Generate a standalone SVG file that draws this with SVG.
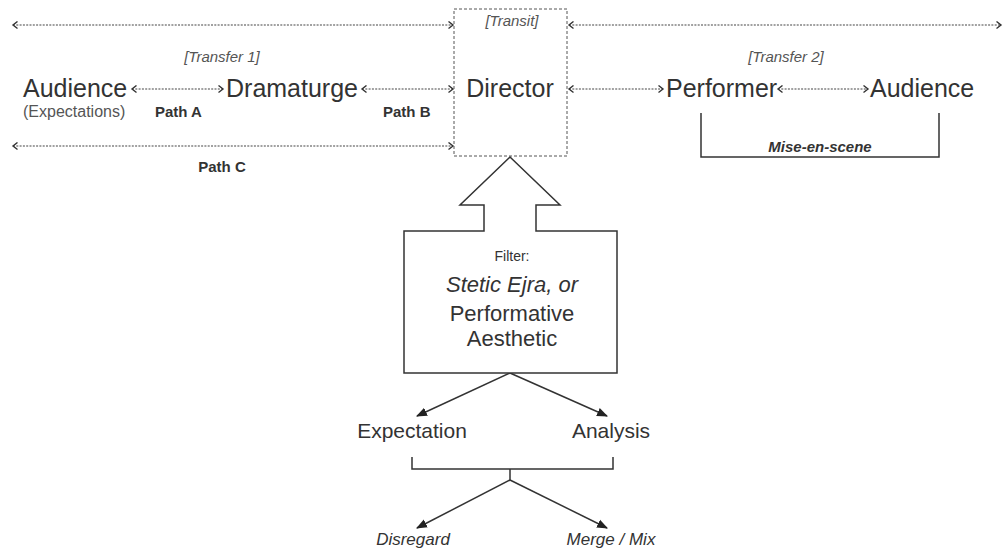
<svg xmlns="http://www.w3.org/2000/svg" width="1005" height="551" viewBox="0 0 1005 551">
  <style>
    text { font-family: "Liberation Sans", Arial, sans-serif; fill: #333; }
    .big { font-size: 25px; }
    .note { font-size: 15px; font-style: italic; fill: #555; }
    .path { font-size: 15px; font-weight: bold; fill: #333; }
    .sub { font-size: 16px; fill: #555; }
    .mid { text-anchor: middle; }
    .dotted { stroke: #444; stroke-width: 1.2; stroke-dasharray: 2 1.3; fill: none; }
    .solid { stroke: #333; stroke-width: 1.5; fill: none; }
  </style>
  <defs>
    <marker id="chev" viewBox="0 0 9 9" markerWidth="9" markerHeight="9" refX="7" refY="4.5" orient="auto-start-reverse" markerUnits="userSpaceOnUse">
      <path d="M2.5,1 L7,4.5 L2.5,8" fill="none" stroke="#333" stroke-width="1.4"/>
    </marker>
    <marker id="tri" viewBox="0 0 10 10" markerWidth="11" markerHeight="11" refX="9" refY="5" orient="auto" markerUnits="userSpaceOnUse">
      <path d="M0,1 L10,5 L0,9 Z" fill="#222"/>
    </marker>
  </defs>

  <rect width="1005" height="551" fill="#fff"/>

  <!-- connectors -->
  <g id="connectors">
    <line class="dotted" x1="13" y1="25" x2="453" y2="25" marker-start="url(#chev)" marker-end="url(#chev)"/>
    <line class="dotted" x1="569" y1="25" x2="1001" y2="25" marker-start="url(#chev)" marker-end="url(#chev)"/>
    <line class="dotted" x1="132" y1="89" x2="223" y2="89" marker-start="url(#chev)" marker-end="url(#chev)"/>
    <line class="dotted" x1="362" y1="89" x2="453" y2="89" marker-start="url(#chev)" marker-end="url(#chev)"/>
    <line class="dotted" x1="13" y1="146" x2="453" y2="146" marker-start="url(#chev)" marker-end="url(#chev)"/>
    <line class="dotted" x1="569" y1="89" x2="663" y2="89" marker-start="url(#chev)" marker-end="url(#chev)"/>
    <line class="dotted" x1="778" y1="89" x2="868" y2="89" marker-start="url(#chev)" marker-end="url(#chev)"/>
    <!-- mise-en-scene bracket -->
    <path class="solid" d="M701,113 V157 H939 V113"/>
    <!-- filter outputs -->
    <line class="solid" x1="510" y1="373" x2="417" y2="416" marker-end="url(#tri)"/>
    <line class="solid" x1="510" y1="373" x2="607" y2="416" marker-end="url(#tri)"/>
    <path class="solid" d="M412,457 V469 H613 V457 M510,469 V480"/>
    <line class="solid" x1="510" y1="480" x2="417" y2="528" marker-end="url(#tri)"/>
    <line class="solid" x1="510" y1="480" x2="607" y2="528" marker-end="url(#tri)"/>
  </g>

  <!-- labels on connectors -->
  <g id="labels">
    <text class="note mid" x="222" y="62">[Transfer 1]</text>
    <text class="note mid" x="786" y="62">[Transfer 2]</text>
    <text class="path" x="155" y="117">Path A</text>
    <text class="path" x="383" y="117">Path B</text>
    <text class="path mid" x="222" y="172">Path C</text>
    <text class="path mid" x="820" y="152" font-style="italic">Mise-en-scene</text>
  </g>

  <g id="audience-left">
    <text class="big" x="23" y="97">Audience</text>
    <text class="sub" x="23" y="117">(Expectations)</text>
  </g>

  <g id="dramaturge">
    <text class="big" x="226" y="97">Dramaturge</text>
  </g>

  <g id="director">
    <rect x="454" y="9" width="113" height="147" fill="none" stroke="#555" stroke-width="1" stroke-dasharray="3 2"/>
    <text class="note mid" x="512" y="26">[Transit]</text>
    <text class="big mid" x="510" y="97">Director</text>
  </g>

  <g id="performer">
    <text class="big" x="666" y="97">Performer</text>
  </g>

  <g id="audience-right">
    <text class="big" x="870" y="97">Audience</text>
  </g>

  <g id="filter">
    <polygon points="510,157 560,205 536,205 536,231 617,231 617,373 404,373 404,231 484,231 484,205 460,205" fill="#fff" stroke="#333" stroke-width="1.5" stroke-linejoin="miter"/>
    <text class="mid" x="512" y="261" font-size="14" fill="#555">Filter:</text>
    <text class="mid" x="512" y="292" font-size="22" font-style="italic">Stetic Ejra, or</text>
    <text class="mid" x="512" y="321" font-size="22">Performative</text>
    <text class="mid" x="512" y="346" font-size="22">Aesthetic</text>
  </g>

  <g id="expectation">
    <text class="mid" x="412" y="438" font-size="21">Expectation</text>
  </g>

  <g id="analysis">
    <text class="mid" x="611" y="438" font-size="21">Analysis</text>
  </g>

  <g id="disregard">
    <text class="mid" x="413" y="545" font-size="17" font-style="italic">Disregard</text>
  </g>

  <g id="merge">
    <text class="mid" x="611" y="545" font-size="17" font-style="italic">Merge / Mix</text>
  </g>
</svg>
